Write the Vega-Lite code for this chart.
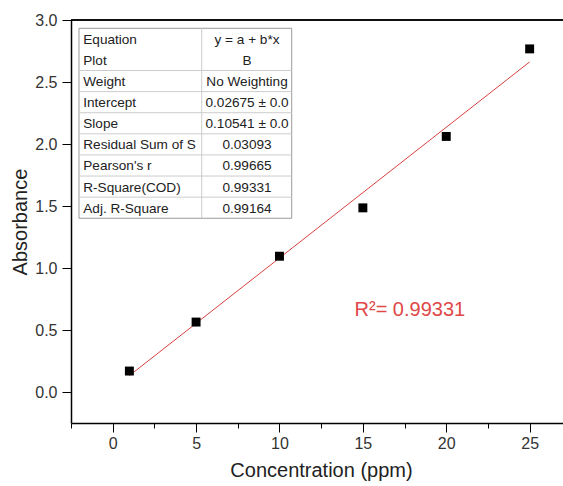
{
  "$schema": "https://vega.github.io/schema/vega-lite/v6.json",
  "autosize": {"type": "none"},
  "padding": {"left": 71, "top": 20, "right": 0, "bottom": 63},
  "width": 492,
  "height": 403,
  "background": "white",
  "config": {"view": {"stroke": null}, "font": "Liberation Sans"},
  "datasets": {
    "pts": [
      {"conc": 1, "abs": 0.169},
      {"conc": 5, "abs": 0.564},
      {"conc": 10, "abs": 1.095},
      {"conc": 15, "abs": 1.485},
      {"conc": 20, "abs": 2.061},
      {"conc": 25, "abs": 2.767}
    ],
    "fit": [
      {"conc": 1, "abs": 0.132},
      {"conc": 25, "abs": 2.662}
    ],
    "table": [
      {"row": 1, "label": "Equation", "value": "y = a + b*x"},
      {"row": 2, "label": "Plot", "value": "B"},
      {"row": 3, "label": "Weight", "value": "No Weighting"},
      {"row": 4, "label": "Intercept", "value": "0.02675 ± 0.0"},
      {"row": 5, "label": "Slope", "value": "0.10541 ± 0.0"},
      {"row": 6, "label": "Residual Sum of S", "value": "0.03093"},
      {"row": 7, "label": "Pearson's r", "value": "0.99665"},
      {"row": 8, "label": "R-Square(COD)", "value": "0.99331"},
      {"row": 9, "label": "Adj. R-Square", "value": "0.99164"}
    ]
  },
  "resolve": {"scale": {"x": "independent", "y": "independent"}},
  "layer": [
    {
      "layer": [
        {
          "data": {"name": "fit"},
          "mark": {"type": "rule", "color": "black", "strokeWidth": 1.5},
          "encoding": {"y": {"datum": 3.0, "type": "quantitative"}}
        },
        {
          "data": {"name": "fit"},
          "mark": {"type": "line", "color": "#d94040", "strokeWidth": 1},
          "encoding": {
            "x": {
              "field": "conc", "type": "quantitative",
              "scale": {"domain": [-2.5, 27.0], "nice": false, "zero": false},
              "axis": {
                "title": "Concentration (ppm)",
                "values": [-2.5, 0, 2.5, 5, 7.5, 10, 12.5, 15, 17.5, 20, 22.5, 25],
                "labelExpr": "datum.value % 5 === 0 ? datum.label : ''",
                "labelOverlap": false,
                "labelFontSize": 16,
                "labelColor": "#333333",
                "labelPadding": 3,
                "tickSize": {"condition": {"test": "datum.value % 5 === 0", "value": 9}, "value": 5},
                "tickColor": "black",
                "tickWidth": 1,
                "domainColor": "black",
                "domainWidth": 1.5,
                "grid": false,
                "titleFontSize": 20,
                "titleFontWeight": "normal",
                "titleColor": "#222222",
                "titlePadding": 9,
                "titleX": 250
              }
            },
            "y": {
              "field": "abs", "type": "quantitative",
              "scale": {"domain": [-0.25, 3.0], "nice": false, "zero": false},
              "axis": {
                "title": "Absorbance",
                "values": [0, 0.25, 0.5, 0.75, 1, 1.25, 1.5, 1.75, 2, 2.25, 2.5, 2.75, 3],
                "labelExpr": "abs(datum.value*2 - round(datum.value*2)) < 0.001 ? format(datum.value, '.1f') : ''",
                "labelOverlap": false,
                "labelFontSize": 16,
                "labelColor": "#333333",
                "labelPadding": 5,
                "tickSize": {"condition": {"test": "abs(datum.value*2 - round(datum.value*2)) < 0.001", "value": 9}, "value": 5},
                "tickColor": "black",
                "tickWidth": 1,
                "domainColor": "black",
                "domainWidth": 1.5,
                "grid": false,
                "titleFontSize": 20,
                "titleFontWeight": "normal",
                "titleColor": "#222222",
                "titlePadding": 4
              }
            }
          }
        },
        {
          "data": {"name": "pts"},
          "mark": {"type": "point", "shape": "square", "filled": true, "color": "black", "size": 80, "opacity": 1},
          "encoding": {
            "x": {"field": "conc", "type": "quantitative"},
            "y": {"field": "abs", "type": "quantitative"}
          }
        },
        {
          "data": {"values": [{"r2": "R²= 0.99331"}]},
          "mark": {"type": "text", "align": "left", "baseline": "alphabetic", "fontSize": 20, "color": "#e04848"},
          "encoding": {
            "x": {"datum": 14.5, "type": "quantitative"},
            "y": {"datum": 0.61, "type": "quantitative"},
            "text": {"field": "r2"}
          }
        }
      ]
    },
    {
      "layer": [
        {
          "data": {"values": [{}]},
          "mark": {"type": "rect", "fill": "white", "stroke": "#9a9a9a", "strokeWidth": 1},
          "encoding": {
            "x": {"datum": 0, "type": "quantitative", "scale": {"domain": [-0.0376, 2.2755], "nice": false, "zero": false}, "axis": null},
            "x2": {"datum": 1},
            "y": {"datum": 0, "type": "quantitative", "scale": {"domain": [-0.393, 18.70], "nice": false, "zero": false, "reverse": true}, "axis": null},
            "y2": {"datum": 9}
          }
        },
        {
          "data": {"name": "table"},
          "transform": [{"filter": "datum.row >= 2 && datum.row <= 8"}],
          "mark": {"type": "rule", "color": "#cccccc", "strokeWidth": 1},
          "encoding": {
            "x": {"datum": 0, "type": "quantitative"},
            "x2": {"datum": 1},
            "y": {"field": "row", "type": "quantitative"}
          }
        },
        {
          "data": {"values": [{}]},
          "mark": {"type": "rule", "color": "#cccccc", "strokeWidth": 1},
          "encoding": {
            "x": {"datum": 0.577, "type": "quantitative"},
            "y": {"datum": 0, "type": "quantitative"},
            "y2": {"datum": 9}
          }
        },
        {
          "data": {"name": "table"},
          "mark": {"type": "text", "align": "left", "baseline": "alphabetic", "dy": -5.6, "fontSize": 13.6, "color": "#222222"},
          "encoding": {
            "x": {"datum": 0.02, "type": "quantitative"},
            "y": {"field": "row", "type": "quantitative"},
            "text": {"field": "label"}
          }
        },
        {
          "data": {"name": "table"},
          "mark": {"type": "text", "align": "center", "baseline": "alphabetic", "dy": -5.6, "fontSize": 13.6, "color": "#222222"},
          "encoding": {
            "x": {"datum": 0.79, "type": "quantitative"},
            "y": {"field": "row", "type": "quantitative"},
            "text": {"field": "value"}
          }
        }
      ]
    }
  ]
}
